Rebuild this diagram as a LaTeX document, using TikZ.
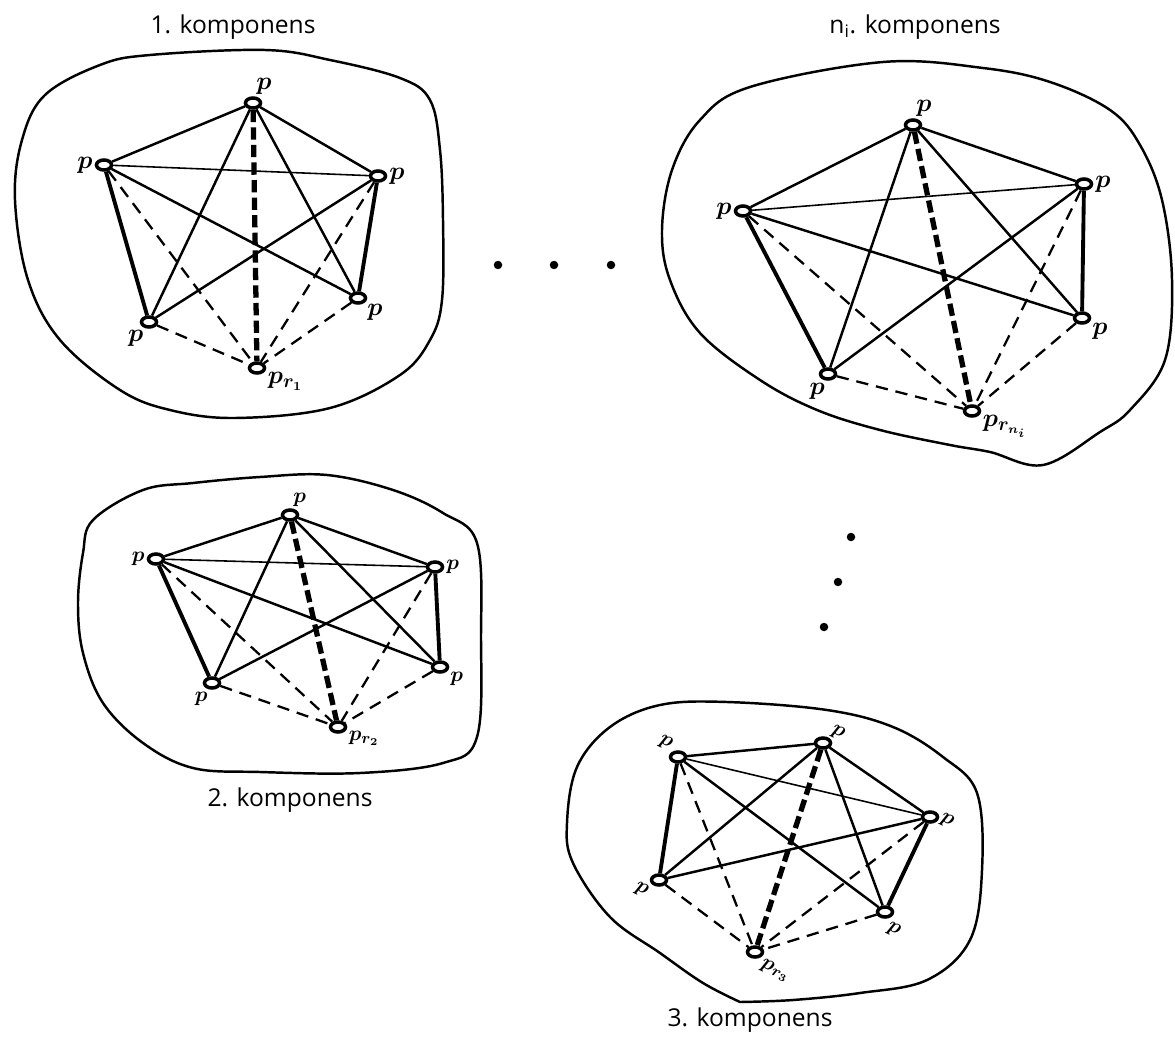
\documentclass[tikz,border=0pt]{standalone}
\usepackage{amsmath}
\usepackage{fontspec}
\setsansfont{Open Sans}
\usetikzlibrary{shapes.geometric}

% edges of one component: nodes #1-t, #1-l, #1-r, #1-bl, #1-br, #1-pr
\newcommand{\kedges}[1]{%
    \draw[edge] (#1-t) -- (#1-l);
    \draw[edge] (#1-t) -- (#1-r);
    \draw[edge] (#1-t) -- (#1-bl);
    \draw[edge] (#1-t) -- (#1-br);
    \draw[thinedge] (#1-l) -- (#1-r);
    \draw[thickedge] (#1-l) -- (#1-bl);
    \draw[edge] (#1-l) -- (#1-br);
    \draw[thickedge] (#1-r) -- (#1-br);
    \draw[edge] (#1-r) -- (#1-bl);
    \draw[fatdash] (#1-t) -- (#1-pr);
    \foreach \w in {l,r,bl,br}
        \draw[dashedge] (#1-\w) -- (#1-pr);
}
\newcommand{\pp}{$\boldsymbol{p}$}

\begin{document}
\begin{tikzpicture}[
    x=0.02cm,y=-0.02cm,
    v/.style={ellipse,draw=black,fill=white,line width=2pt,minimum width=0.3cm,minimum height=0.2cm,inner sep=0pt},
    lbl/.style={font=\fontsize{15}{17}\selectfont,inner sep=1pt},
    small/.style={font=\fontsize{13}{15}\selectfont},
    edge/.style={line width=1.4pt},
    thinedge/.style={line width=0.9pt},
    thickedge/.style={line width=2.2pt},
    dashedge/.style={line width=1.3pt,dash pattern=on 7pt off 4.5pt},
    fatdash/.style={line width=3pt,dash pattern=on 7pt off 3pt},
    blob/.style={line width=1.4pt},
    title/.style={font=\sffamily\fontsize{14}{16}\selectfont},
    dot/.style={circle,fill=black,inner sep=0pt,minimum size=0.17cm},
]
    \useasboundingbox (0,0) rectangle (1175,1040);

    % 1. komponens
    \node[title] (t1) at (233,27) {1. komponens};
    \draw[blob] plot[smooth cycle,tension=0.6] coordinates {(45,95) (100,65) (150,55) (265,50) (330,60) (400,78) (430,100) (440,150) (443,220) (442,300) (430,340) (400,375) (330,408) (235,418) (170,410) (120,390) (60,340) (28,280) (15,200) (22,140)};
    \node[v,label={[lbl]80:\pp}] (a-t) at (253,103) {};
    \node[v,label={[lbl]left:\pp}] (a-l) at (104,165) {};
    \node[v,label={[lbl]right:\pp}] (a-r) at (378,176) {};
    \node[v,label={[lbl]-30:\pp}] (a-br) at (358,298) {};
    \node[v,label={[lbl]-120:\pp}] (a-bl) at (149,322) {};
    \node[v,label={[lbl]-15:$\boldsymbol{p_{r_1}}$}] (a-pr) at (257,368) {};
    \kedges{a}

    % n_i. komponens
    \node[title] (tn) at (915,27) {n\textsubscript{i}. komponens};
    \draw[blob] plot[smooth cycle,tension=0.6] coordinates {(750,87) (883,62) (983,68) (1050,82) (1110,110) (1140,145) (1162,200) (1172,280) (1165,360) (1130,410) (1100,432) (1043,465) (990,452) (950,445) (880,430) (817,410) (760,380) (700,333) (670,280) (662,230) (672,170) (700,120)};
    \node[v,label={[lbl]80:\pp}] (n-t) at (913,125) {};
    \node[v,label={[lbl]left:\pp}] (n-l) at (743,211) {};
    \node[v,label={[lbl]right:\pp}] (n-r) at (1084,184) {};
    \node[v,label={[lbl]-20:\pp}] (n-br) at (1082,318) {};
    \node[v,label={[lbl]-100:\pp}] (n-bl) at (828,374) {};
    \node[v,label={[lbl]-15:$\boldsymbol{p_{r_{n_i}}}$}] (n-pr) at (972,411) {};
    \kedges{n}

    % 2. komponens
    \node[title] (t2) at (290,800) {2. komponens};
    \draw[blob] plot[smooth cycle,tension=0.6] coordinates {(93,520) (143,490) (193,483) (260,477) (327,475) (393,490) (443,513) (477,543) (481,637) (477,737) (443,763) (360,773) (260,772) (193,768) (143,743) (103,703) (83,653) (78,603) (83,553)};
    \node[v,label={[lbl,small]80:\pp}] (b-t) at (290,515) {};
    \node[v,label={[lbl,small]left:\pp}] (b-l) at (156,559) {};
    \node[v,label={[lbl,small]right:\pp}] (b-r) at (435,567) {};
    \node[v,label={[lbl,small]-20:\pp}] (b-br) at (440,667) {};
    \node[v,label={[lbl,small]-110:\pp}] (b-bl) at (212,683) {};
    \node[v,label={[lbl,small]-15:$\boldsymbol{p_{r_2}}$}] (b-pr) at (338,727) {};
    \kedges{b}

    % 3. komponens
    \node[title] (t3) at (750,1020) {3. komponens};
    \draw[blob] plot[smooth,tension=0.6] coordinates {(740,1002) (703,983) (660,953) (610,917) (573,863) (567,823) (577,767) (610,727) (660,705) (727,702) (827,710) (893,727) (943,757) (977,793) (982,870) (970,940) (927,980) (860,993) (793,1000) (740,1002)};
    \node[v,label={[lbl,small,rotate=-25]60:\pp}] (c-t) at (823,743) {};
    \node[v,label={[lbl,small,rotate=-25]160:\pp}] (c-l) at (678,757) {};
    \node[v,label={[lbl,small,rotate=-25]right:\pp}] (c-r) at (930,817) {};
    \node[v,label={[lbl,small,rotate=-25]-50:\pp}] (c-br) at (885,912) {};
    \node[v,label={[lbl,small,rotate=-25]-140:\pp}] (c-bl) at (659,880) {};
    \node[v,label={[lbl,small,rotate=-25]-20:$\boldsymbol{p_{r_3}}$}] (c-pr) at (755,952) {};
    \kedges{c}

    % dots between the components
    \foreach \x in {498,554,611}
        \node[dot] at (\x,265) {};
    \node[dot] (d1) at (851,537) {};
    \node[dot] (d2) at (838,582) {};
    \node[dot] (d3) at (824,627) {};
\end{tikzpicture}
\end{document}
